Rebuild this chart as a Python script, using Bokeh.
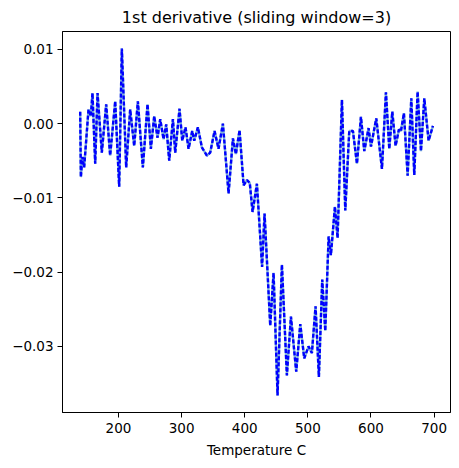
from bokeh.plotting import figure
from bokeh.models import Range1d, FixedTicker, CustomJSTickFormatter
from bokeh.embed import file_html
from bokeh.resources import INLINE

temperature = [139.3, 140.4, 142.8, 145.6, 152.5, 156.2, 158.8, 163.1, 166.8, 173.6,
               180.5, 186.8, 194.8, 201.1, 205.3, 212.2, 218.5, 224.9, 230.7, 238.6,
               246.0, 251.3, 256.6, 261.9, 266.1, 271.4, 275.6, 280.4, 286.2, 289.9,
               296.7, 301.0, 306.2, 311.0, 316.8, 320.0, 325.8, 332.1, 340.1, 345.3,
               352.2, 358.5, 365.4, 374.4, 381.3, 386.0, 391.8, 398.2, 403.5, 408.0,
               412.4, 419.3, 427.5, 431.4, 440.4, 445.7, 452.0, 458.9, 466.8, 473.2,
               481.6, 488.0, 494.3, 501.1, 506.4, 512.2, 517.5, 522.8, 527.6, 532.9,
               536.5, 542.9, 547.1, 554.0, 559.3, 565.6, 571.4, 577.8, 584.1, 589.4,
               596.2, 600.0, 608.4, 617.4, 623.7, 629.0, 633.8, 639.0, 644.3, 647.5,
               652.2, 658.1, 663.9, 668.6, 673.9, 679.2, 684.5, 691.3, 698.2]
derivative = [0.0016, -0.0072, -0.0045, -0.0059, 0.0019, 0.0010, 0.0041, -0.0054, 0.0041, -0.0039,
              0.0026, -0.0043, 0.0030, -0.0085, 0.0101, -0.0059, 0.0019, -0.0030, 0.0030, -0.0059,
              0.0026, -0.0034, 0.0010, -0.0019, 0.0006, -0.0021, -0.0001, -0.0050, 0.0006, -0.0039,
              0.0020, -0.0023, -0.0005, -0.0034, -0.0010, -0.0023, -0.0005, -0.0032, -0.0043, -0.0039,
              -0.0010, -0.0034, 0.0000, -0.0094, -0.0020, -0.0041, -0.0009, -0.0083, -0.0076, -0.0080,
              -0.0119, -0.0081, -0.0193, -0.0121, -0.0272, -0.0201, -0.0366, -0.0190, -0.0339, -0.0260,
              -0.0334, -0.0270, -0.0316, -0.0300, -0.0309, -0.0246, -0.0341, -0.0210, -0.0279, -0.0152,
              -0.0177, -0.0112, -0.0154, 0.0032, -0.0117, -0.0010, -0.0010, -0.0054, 0.0009, -0.0037,
              -0.0006, -0.0031, 0.0007, -0.0061, 0.0042, -0.0034, 0.0016, -0.0030, -0.0008, -0.0010,
              0.0014, -0.0070, 0.0034, -0.0069, 0.0043, -0.0037, 0.0034, -0.0023, -0.0003]
x_ticks = [200, 300, 400, 500, 600, 700]
y_ticks = [0.01, 0.0, -0.01, -0.02, -0.03]

p = figure(width=451, height=460, output_backend="svg", toolbar_location=None,
           x_range=Range1d(111.3, 726), y_range=Range1d(-0.0389, 0.0124),
           title="1st derivative (sliding window=3)",
           min_border_left=62, min_border_right=1, min_border_top=30, min_border_bottom=45)

p.line(temperature, derivative, line_color="#7fb3d5", line_width=2.4)
p.line(temperature, derivative, line_color="#0000ff", line_width=2.4, line_dash="4 2")

p.title.align = "center"
p.title.text_font = "DejaVu Sans"
p.title.text_font_size = "16px"
p.title.text_font_style = "normal"
p.title.text_color = "black"

p.xgrid.visible = False
p.ygrid.visible = False
p.outline_line_color = "black"
p.outline_line_width = 1
p.background_fill_color = "white"
p.border_fill_color = "white"

p.xaxis.ticker = FixedTicker(ticks=x_ticks)
p.yaxis.ticker = FixedTicker(ticks=y_ticks)
p.yaxis.formatter = CustomJSTickFormatter(code="return tick.toFixed(2).replace('-', '\u2212');")
p.xaxis.axis_label = "Temperature C"

for ax in (p.xaxis[0], p.yaxis[0]):
    ax.axis_line_color = "black"
    ax.major_tick_line_color = "black"
    ax.major_tick_out = 5
    ax.major_tick_in = 0
    ax.minor_tick_line_color = None
    ax.major_label_text_font = "DejaVu Sans"
    ax.major_label_text_font_size = "13.5px"
    ax.major_label_text_color = "black"
    ax.major_label_standoff = 4
    ax.axis_label_text_font = "DejaVu Sans"
    ax.axis_label_text_font_size = "13.5px"
    ax.axis_label_text_font_style = "normal"
    ax.axis_label_text_color = "black"
    ax.axis_label_standoff = 4
p.xaxis[0].major_label_standoff = 5
p.xaxis[0].axis_label_standoff = 6

open("out.html", "w").write(file_html(p, INLINE))
